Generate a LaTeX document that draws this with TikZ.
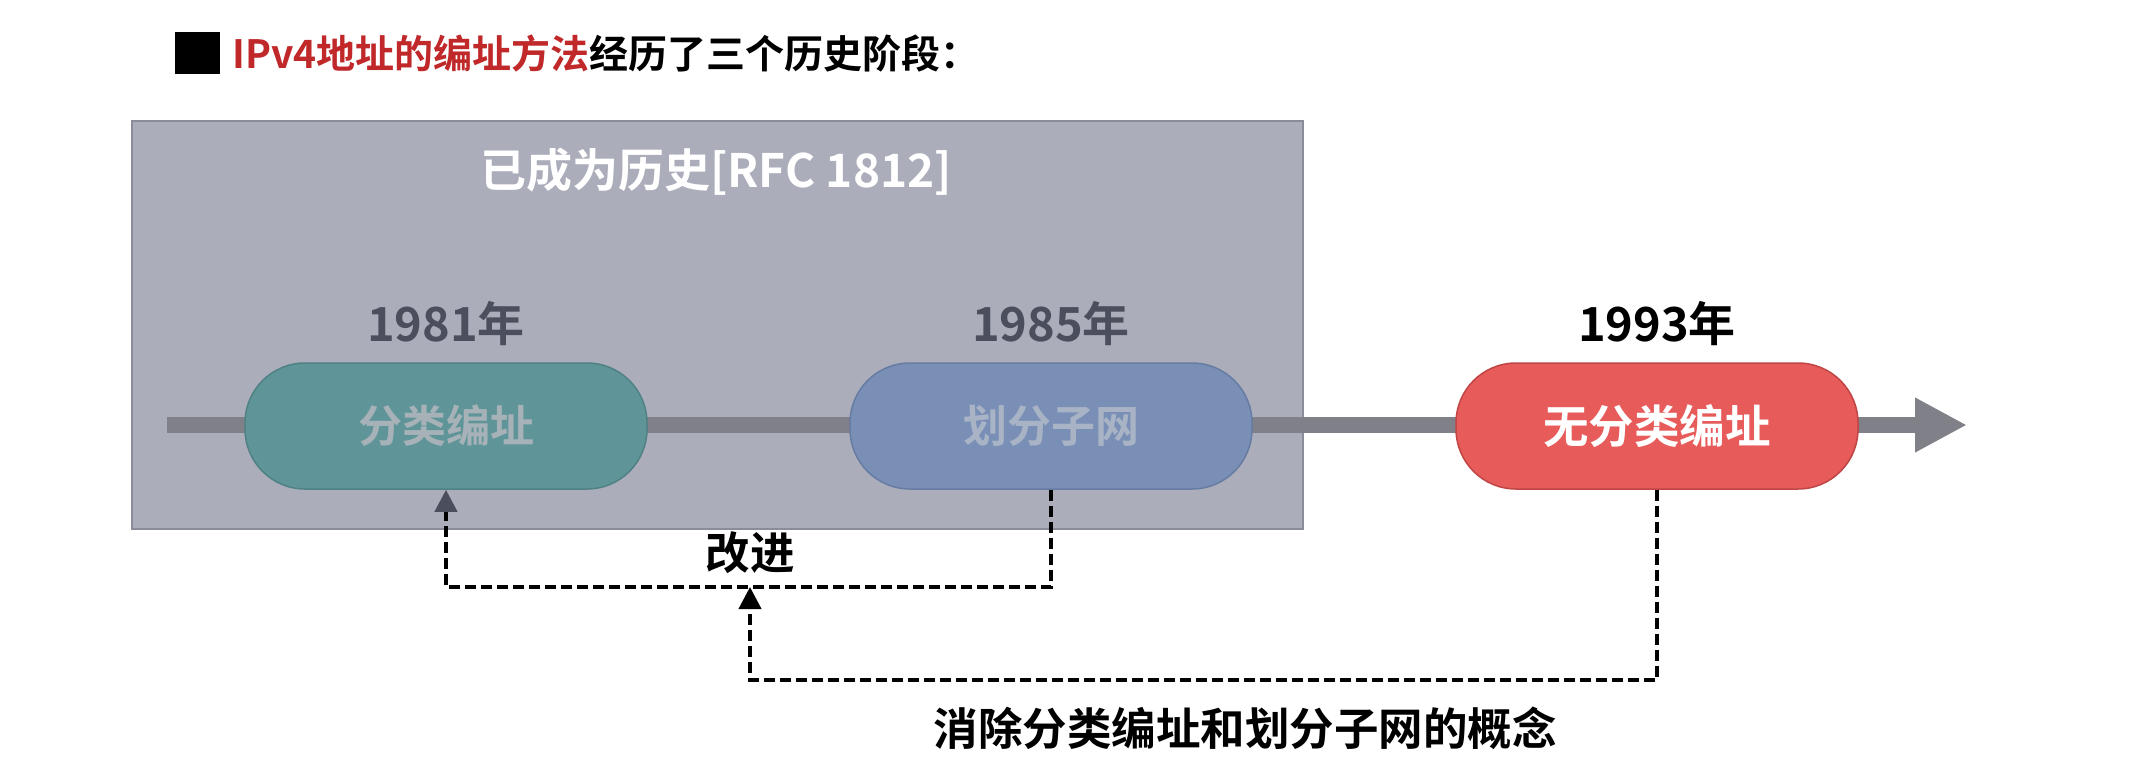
\documentclass[tikz,border=0pt]{standalone}
\usepackage{fontspec}
\setmainfont{Noto Sans CJK SC}[BoldFont={Noto Sans CJK SC Bold}]
\usetikzlibrary{arrows.meta}
\definecolor{boxfill}{HTML}{ABADBA}
\definecolor{boxline}{HTML}{8A8C9A}
\definecolor{axisgray}{HTML}{808088}
\definecolor{tealfill}{HTML}{5F9598}
\definecolor{tealline}{HTML}{4F8185}
\definecolor{tealtext}{HTML}{A6B2B8}
\definecolor{bluefill}{HTML}{7A8FB6}
\definecolor{blueline}{HTML}{667CA2}
\definecolor{bluetext}{HTML}{A9B3C6}
\definecolor{redfill}{HTML}{E85B5B}
\definecolor{redline}{HTML}{C04545}
\definecolor{yeargray}{HTML}{4B4E5C}
\definecolor{titlered}{HTML}{C0282A}
\begin{document}
\begin{tikzpicture}[x=1pt,y=-1pt,
  pill/.style={rounded corners=60pt, minimum width=402pt, minimum height=126pt,
    line width=1.5pt, font=\fontsize{44}{52}\selectfont\bfseries, inner sep=0pt},
  year/.style={font=\fontsize{47}{55}\selectfont\bfseries},
  dline/.style={line width=4pt, dash pattern=on 11pt off 5pt},
  bigtext/.style={font=\fontsize{44.5}{52}\selectfont\bfseries},
  ]
\useasboundingbox[fill=white] (0,0) rectangle (2133,777);
% title
\node[fill=black, minimum width=45pt, minimum height=42pt, inner sep=0pt] (sq) at (197,53) {};
\node[anchor=west, inner sep=0pt, font=\fontsize{39}{46}\selectfont\bfseries] (title) at (232,54)
  {\textcolor{titlered}{IPv4地址的编址方法}经历了三个历史阶段：};
% history box
\node[fill=boxfill, draw=boxline, line width=2pt, minimum width=1171pt, minimum height=408pt, inner sep=0pt] (hist) at (717.5,325) {};
\node[bigtext, text=white, font=\fontsize{46}{54}\selectfont\bfseries] (histlabel) at (716,172) {已成为历史[RFC 1812]};
% timeline
\coordinate (t0) at (167,425);
\coordinate (t1) at (1967,425);
\draw[axisgray, line width=16pt, -{Triangle[length=52pt,width=51pt]}] (t0) -- (t1);
% years
\node[year, text=yeargray] (y1) at (446,324) {1981年};
\node[year, text=yeargray] (y2) at (1051,324) {1985年};
\node[year, text=black] (y3) at (1657,324) {1993年};
% pills
\node[pill, fill=tealfill, draw=tealline, text=tealtext] (p1) at (446,426) {分类编址};
\node[pill, fill=bluefill, draw=blueline, text=bluetext] (p2) at (1051,426) {划分子网};
\node[pill, fill=redfill, draw=redline, text=white, font=\fontsize{45.5}{53}\selectfont\bfseries] (p3) at (1657,426) {无分类编址};
% dashed connectors
\coordinate (c1) at (1051,587);
\coordinate (c2) at (446,587);
\coordinate (c3) at (1657,680);
\coordinate (c4) at (750,680);
\coordinate (c5) at (750,587);
\draw[dline, -{Triangle[length=22pt,width=22pt,color=yeargray]}] (p2.south) -- (c1) -- (c2) -- (p1.south);
\draw[dline, -{Triangle[length=22pt,width=22pt]}] (p3.south) -- (c3) -- (c4) -- (c5);
\node[bigtext] (imp) at (750,553) {改进};
\node[bigtext] (elim) at (1245,728) {消除分类编址和划分子网的概念};
\end{tikzpicture}
\end{document}
